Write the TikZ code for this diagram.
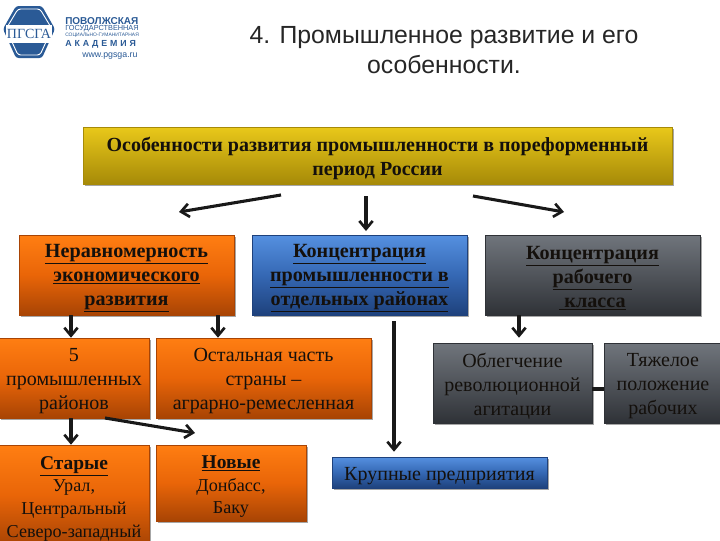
\documentclass[tikz,border=0pt]{standalone}
\usepackage{fontspec}
\setmainfont{Liberation Serif}
\newfontfamily\titlefont{Liberation Sans}
\usetikzlibrary{arrows.meta,shadows,calc}
\definecolor{txtdark}{HTML}{14100C}
\definecolor{logoblue}{HTML}{2A5A96}
\definecolor{F1}{HTML}{E9C81A}\definecolor{F2}{HTML}{A68A08}
\definecolor{O1}{HTML}{FF7E12}\definecolor{O3}{HTML}{E96508}\definecolor{O2}{HTML}{A84404}
\definecolor{B1}{HTML}{5590E0}\definecolor{B3}{HTML}{3568B4}\definecolor{B2}{HTML}{1E417C}
\definecolor{G1}{HTML}{70757C}\definecolor{G3}{HTML}{50545A}\definecolor{G2}{HTML}{2F3237}
\tikzset{
  x=0.75pt,y=-0.75pt,
  basebox/.style={draw=#1,line width=0.4pt,align=center,inner sep=0pt,text=txtdark,
    drop shadow={shadow xshift=1.2pt,shadow yshift=-1.4pt,fill=black,opacity=.35}},
  goldbox/.style={basebox=F2,top color=F1,bottom color=F2,font=\bfseries\fontsize{15}{18}\selectfont},
  orangebox/.style={basebox=O2,top color=O1,bottom color=O2,middle color=O3},
  bluebox/.style={basebox=B2,top color=B1,bottom color=B2,middle color=B3},
  graybox/.style={basebox=G2,top color=G1,bottom color=G2,middle color=G3},
  headtxt/.style={font=\bfseries\fontsize{15.1}{18}\selectfont},
  subtxt/.style={font=\fontsize{15}{18}\selectfont},
  lowtxt/.style={font=\fontsize{13.6}{17}\selectfont},
  arrowline/.style={draw=black!90,line width=2.3pt,-{Straight Barb[length=6pt,width=10pt,line width=2pt]}},
  plainline/.style={draw=black!90,line width=2.3pt},
  logotxt/.style={text=logoblue,inner sep=0pt,anchor=west}
}
\newcommand\mybox[7]{%
  \pgfmathsetmacro\bw{(#4-#2)*0.75}\pgfmathsetmacro\bh{(#5-#3)*0.75}%
  \node[#6,minimum width=\bw pt,minimum height=\bh pt] (#1) at ({(#2+#4)/2},{(#3+#5)/2}) {#7};}
\newcommand\dnline{\rule{0pt}{15pt}}
\newcommand\lowhead[1]{{\bfseries\fontsize{14.6}{17}\selectfont\underline{#1}}}
\begin{document}
\begin{tikzpicture}
\useasboundingbox (0,0) rectangle (720,540);
\clip (0,0) rectangle (720,540);
\fill[white] (0,0) rectangle (720,540);
% logo
\fill[logoblue,rounded corners=2pt] (3,29) -- (16,6) -- (42,6) -- (55,29) -- (42,58) -- (16,58) -- cycle;
\draw[white,line width=0.7pt,rounded corners=2pt] (6,29) -- (18,9) -- (40,9) -- (52,29) -- (40,55) -- (18,55) -- cycle;
\fill[white] (6,25) rectangle (52,43);
\node[text=logoblue,inner sep=0pt,font=\fontsize{10.5}{12}\selectfont] (logomark) at (29,34) {ПГСГА};
\node[logotxt,font=\titlefont\bfseries\fontsize{7.5}{8}\selectfont] (logoa) at (65,21) {ПОВОЛЖСКАЯ};
\node[logotxt,font=\titlefont\fontsize{5.5}{6}\selectfont] (logob) at (65,28.5) {ГОСУДАРСТВЕННАЯ};
\node[logotxt,font=\titlefont\fontsize{3.7}{4}\selectfont] (logoc) at (65,35) {СОЦИАЛЬНО-ГУМАНИТАРНАЯ};
\node[logotxt,font=\titlefont\bfseries\fontsize{6.6}{8}\selectfont] (logod) at (65,44) {А\,\,К\,\,А\,\,Д\,\,Е\,\,М\,\,И\,\,Я};
\node[logotxt,font=\titlefont\fontsize{6.6}{7}\selectfont] (logoe) at (82,56) {www.pgsga.ru};
% title
\node[align=center,inner sep=0pt,font=\titlefont\fontsize{18.6}{22.5}\selectfont,text=black!85] (title) at (444,50)
  {4. Промышленное развитие и его\\особенности.};
% boxes
\mybox{top}{83}{127}{672}{184}{goldbox}{\dnline Особенности развития промышленности в пореформенный\\период России}
\mybox{ora}{19}{235}{234}{315}{orangebox,headtxt}{\dnline\underline{Неравномерность}\\\underline{экономического}\\\underline{развития}}
\mybox{blu}{252}{235}{467}{315}{bluebox,headtxt}{\dnline\underline{Концентрация}\\\underline{промышленности в}\\\underline{отдельных районах}}
\mybox{gra}{485}{235}{700}{315}{graybox,headtxt}{\dnline\underline{Концентрация}\\\underline{рабочего}\\\underline{\ класса}}
\mybox{five}{-1}{338}{149}{418}{orangebox,subtxt}{\dnline 5\\промышленных\\районов}
\mybox{rest}{156}{338}{371}{418}{orangebox,subtxt}{\dnline Остальная часть\\страны --\\аграрно-ремесленная}
\mybox{oble}{433}{343}{592}{423}{graybox,subtxt}{\dnline Облегчение\\революционной\\агитации}
\mybox{tyazh}{604}{343}{722}{423}{graybox,subtxt}{\dnline Тяжелое\\положение\\рабочих}
\mybox{star}{-1}{445}{149}{545}{orangebox,lowtxt}{\dnline\lowhead{Старые}\\Урал,\\Центральный\\Северо-западный}
\mybox{nov}{156}{445}{306}{521}{orangebox,lowtxt}{\dnline\lowhead{Новые}\\Донбасс,\\Баку}
\mybox{krup}{332}{457}{547}{488}{bluebox,subtxt}{\dnline Крупные предприятия}
% free ends of connectors
\coordinate (a1s) at (281,195); \coordinate (a1e) at (179,212);
\coordinate (a2s) at (366,196); \coordinate (a2e) at (366,231);
\coordinate (a3s) at (473,196); \coordinate (a3e) at (564,212);
\coordinate (a8s) at (105,418); \coordinate (a8e) at (195,433);
\coordinate (a9s) at (394,321);
% connectors
\draw[arrowline] (a1s) -- (a1e);
\draw[arrowline] (a2s) -- (a2e);
\draw[arrowline] (a3s) -- (a3e);
\draw[arrowline] (ora.south -| 71,0) -- (five.north -| 71,0);
\draw[arrowline] (ora.south -| 218,0) -- (rest.north -| 218,0);
\draw[arrowline] (gra.south -| 519,0) -- ($(oble.north -| 519,0)+(0,-5)$);
\draw[arrowline] (five.south -| 71,0) -- (star.north -| 71,0);
\draw[arrowline] (a8s) -- (a8e);
\draw[arrowline] (a9s) -- ($(krup.north -| 394,0)+(0,-5)$);
\draw[plainline] (oble.east |- 0,389) -- (tyazh.west |- 0,389);
\end{tikzpicture}
\end{document}
